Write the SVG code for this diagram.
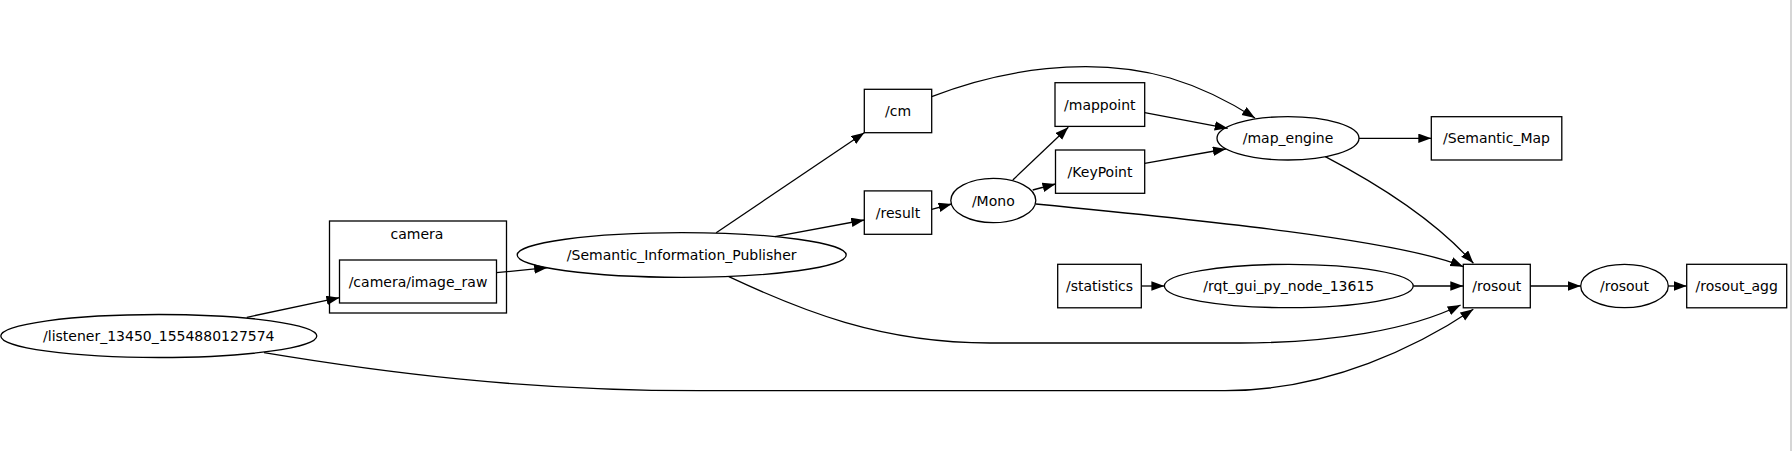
<svg xmlns="http://www.w3.org/2000/svg" width="1792" height="451" viewBox="0 0 1792 451">
<style>
.n{fill:none;stroke:#000;stroke-width:1.3}
.t{font-family:"DejaVu Sans","Liberation Sans",sans-serif;font-size:14px;fill:#000;text-anchor:middle}
.e{fill:none;stroke:#000;stroke-width:1.3}
</style>
<defs>
<marker id="ah" markerUnits="userSpaceOnUse" markerWidth="14" markerHeight="10" refX="13" refY="4.75" orient="auto">
<path d="M0,0 L13,4.75 L0,9.5 Z" fill="#000"/>
</marker>
</defs>
<rect width="1792" height="451" fill="#fff"/>
<line x1="1791" y1="0" x2="1791" y2="451" stroke="#c8c8c8" stroke-width="1.5"/>

<g id="cluster_camera">
<rect class="n" x="329.5" y="221" width="177" height="92"/>
<text class="t" x="417" y="239">camera</text>
</g>
<g id="n_camera_image_raw">
<rect class="n" x="339.5" y="260" width="157" height="43"/>
<text class="t" x="418" y="286.5">/camera/image_raw</text>
</g>
<g id="n_listener">
<ellipse class="n" cx="158.8" cy="336" rx="158" ry="21.5"/>
<text class="t" x="158.8" y="341">/listener_13450_1554880127574</text>
</g>
<g id="n_sip">
<ellipse class="n" cx="681.7" cy="255" rx="164.5" ry="22.3"/>
<text class="t" x="681.7" y="260">/Semantic_Information_Publisher</text>
</g>
<g id="n_cm">
<rect class="n" x="864.3" y="89.3" width="67.4" height="43.4"/>
<text class="t" x="898" y="116">/cm</text>
</g>
<g id="n_result">
<rect class="n" x="864.3" y="190.9" width="67.4" height="43.4"/>
<text class="t" x="898" y="217.5">/result</text>
</g>
<g id="n_mono">
<ellipse class="n" cx="993.3" cy="200.5" rx="42.5" ry="22.2"/>
<text class="t" x="993.3" y="205.5">/Mono</text>
</g>
<g id="n_mappoint">
<rect class="n" x="1055" y="82.7" width="89.7" height="43.7"/>
<text class="t" x="1099.8" y="109.5">/mappoint</text>
</g>
<g id="n_keypoint">
<rect class="n" x="1055.5" y="150" width="89.2" height="43.3"/>
<text class="t" x="1100" y="176.5">/KeyPoint</text>
</g>
<g id="n_map_engine">
<ellipse class="n" cx="1288" cy="138.3" rx="71" ry="21.7"/>
<text class="t" x="1288" y="143.3">/map_engine</text>
</g>
<g id="n_semantic_map">
<rect class="n" x="1431.3" y="116.7" width="130.5" height="43.3"/>
<text class="t" x="1496.5" y="143.3">/Semantic_Map</text>
</g>
<g id="n_statistics">
<rect class="n" x="1057.7" y="264.3" width="83.6" height="43.5"/>
<text class="t" x="1099.5" y="291">/statistics</text>
</g>
<g id="n_rqt">
<ellipse class="n" cx="1288.8" cy="286" rx="124.4" ry="21.7"/>
<text class="t" x="1288.8" y="291">/rqt_gui_py_node_13615</text>
</g>
<g id="n_rosout_topic">
<rect class="n" x="1463.3" y="264.3" width="67" height="43.5"/>
<text class="t" x="1496.8" y="291">/rosout</text>
</g>
<g id="n_rosout_node">
<ellipse class="n" cx="1624.5" cy="286" rx="43.8" ry="21.7"/>
<text class="t" x="1624.5" y="291">/rosout</text>
</g>
<g id="n_rosout_agg">
<rect class="n" x="1686.7" y="264.3" width="100" height="43.5"/>
<text class="t" x="1736.7" y="291">/rosout_agg</text>
</g>

<g id="edges">
<path class="e" marker-end="url(#ah)" d="M246.8,317.3 L339.4,297.7"/>
<path class="e" marker-end="url(#ah)" d="M496.3,272.7 L547.2,267.7"/>
<path class="e" marker-end="url(#ah)" d="M716.2,232.7 L864.3,132.7"/>
<path class="e" marker-end="url(#ah)" d="M774.8,236.7 L864.3,220"/>
<path class="e" marker-end="url(#ah)" d="M931.7,209.3 L951.6,204"/>
<path class="e" marker-end="url(#ah)" d="M1012.8,180 L1068.3,127.3"/>
<path class="e" marker-end="url(#ah)" d="M1032.7,190 L1055.5,184"/>
<path class="e" marker-end="url(#ah)" d="M931.7,96.7 C1000,70 1090,55 1170,78 C1200,87 1230,102 1255,118"/>
<path class="e" marker-end="url(#ah)" d="M1144.7,112.7 L1227.7,128.3"/>
<path class="e" marker-end="url(#ah)" d="M1144.7,163.3 L1225.8,149"/>
<path class="e" marker-end="url(#ah)" d="M1359,138.3 L1431.3,138.3"/>
<path class="e" marker-end="url(#ah)" d="M1325.3,156.7 C1370,180 1430,215 1473.4,263.3"/>
<path class="e" marker-end="url(#ah)" d="M1035.8,204 C1200,220 1400,240 1463.3,266.7"/>
<path class="e" marker-end="url(#ah)" d="M1141.6,286 L1164.4,286"/>
<path class="e" marker-end="url(#ah)" d="M1413.3,286 L1463.3,286"/>
<path class="e" marker-end="url(#ah)" d="M728.8,276.7 C800,310 880,343 990,343 L1240,343 C1330,343 1410,330 1460.6,305"/>
<path class="e" marker-end="url(#ah)" d="M264,352.7 C380,372 520,390.7 700,390.7 L1225,390.7 C1330,390.7 1420,345 1473.3,309.3"/>
<path class="e" marker-end="url(#ah)" d="M1530.3,286 L1580.7,286"/>
<path class="e" marker-end="url(#ah)" d="M1668.3,286 L1686.7,286"/>
</g>
</svg>
